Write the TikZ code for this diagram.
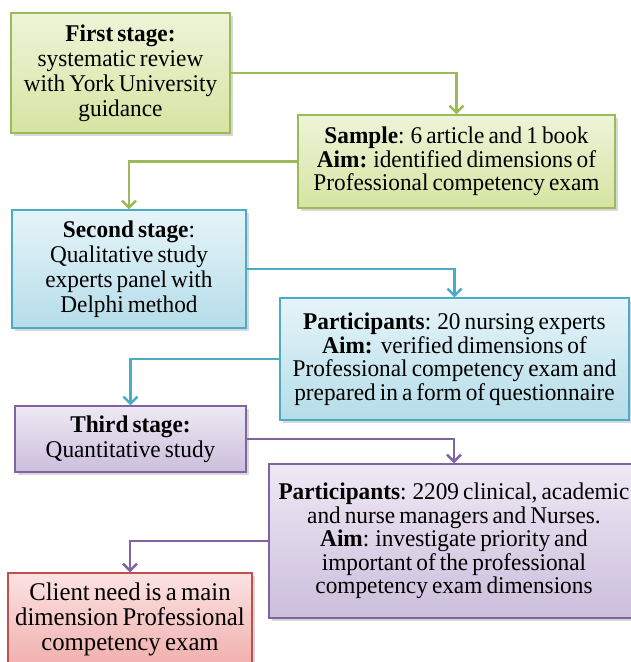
\documentclass[tikz,border=0pt]{standalone}
\usepackage{fontspec}
\setmainfont{Liberation Serif}[FakeStretch=0.97,WordSpace=0.7]
\usetikzlibrary{arrows.meta,shadows}

\definecolor{grnline}{HTML}{9BBB59}
\definecolor{grntop}{HTML}{EEF4D8}
\definecolor{grnbot}{HTML}{D6E4A2}
\definecolor{bluline}{HTML}{4BACC6}
\definecolor{blutop}{HTML}{E6F4F9}
\definecolor{blubot}{HTML}{B5DDE9}
\definecolor{purline}{HTML}{8064A2}
\definecolor{purtop}{HTML}{EEE9F4}
\definecolor{purbot}{HTML}{CBBEDC}
\definecolor{redline}{HTML}{C0504D}
\definecolor{redtop}{HTML}{FBE3E2}
\definecolor{redbot}{HTML}{F1B0AE}

\begin{document}
\begin{tikzpicture}[x=1pt,y=-1pt,
    box/.style={draw, rectangle, line width=1.1pt, align=center, inner sep=0pt,
        drop shadow={shadow xshift=2.5pt, shadow yshift=-2.5pt, opacity=0.3}},
    stagetext/.style={font=\fontsize{24}{25}\selectfont},
    infotext/.style={font=\fontsize{24}{23.5}\selectfont},
    greenbox/.style={box, draw=grnline, top color=grntop, bottom color=grnbot},
    bluebox/.style={box, draw=bluline, top color=blutop, bottom color=blubot},
    purplebox/.style={box, draw=purline, top color=purtop, bottom color=purbot},
    redbox/.style={box, draw=redline, top color=redtop, bottom color=redbot},
    link/.style={line width=2.6pt, -{Straight Barb[length=7pt,width=14pt,line width=2.6pt]}}
]
    \clip (0,0) rectangle (631,662);
    \fill[white] (0,0) rectangle (631,662);

    \node[greenbox, stagetext, minimum width=219, minimum height=120] (first) at (120.5,73)
        {\textbf{First stage:}\\systematic review\\with York University\\guidance};
    \node[greenbox, infotext, minimum width=317, minimum height=93] (sample) at (456.5,161.5)
        {\textbf{Sample}: 6 article and 1 book\\\textbf{Aim:} identified dimensions of\\Professional competency exam};
    \node[bluebox, stagetext, minimum width=234, minimum height=118] (second) at (129,269)
        {\textbf{Second stage}:\\Qualitative study\\experts panel with\\Delphi method};
    \node[bluebox, infotext, minimum width=349, minimum height=122] (experts) at (454.5,359)
        {\textbf{Participants}: 20 nursing experts\\\textbf{Aim:}\ \ verified dimensions of\\Professional competency exam and\\prepared in a form of questionnaire};
    \node[purplebox, stagetext, minimum width=231, minimum height=66] (third) at (130.5,439)
        {\textbf{Third stage:}\\Quantitative study};
    \node[purplebox, infotext, minimum width=370, minimum height=154] (nurses) at (454,541)
        {\textbf{Participants}: 2209 clinical, academic\\and nurse managers and Nurses.\\\textbf{Aim}: investigate priority and\\important of the professional\\competency exam dimensions};
    \node[redbox, font=\fontsize{25.5}{25}\selectfont, minimum width=244, minimum height=92] (client) at (130,619)
        {Client need is a main\\dimension Professional\\competency exam};

    \draw[link, draw=grnline] (first.east) -| (sample.north);
    \draw[link, draw=grnline] (sample.west) -| (second.north);
    \draw[link, draw=bluline] (second.east) -| (experts.north);
    \draw[link, draw=bluline] (experts.west) -| (third.north);
    \draw[link, draw=purline] (third.east) -| (nurses.north);
    \draw[link, draw=purline] (nurses.west) -| (client.north);
\end{tikzpicture}
\end{document}
